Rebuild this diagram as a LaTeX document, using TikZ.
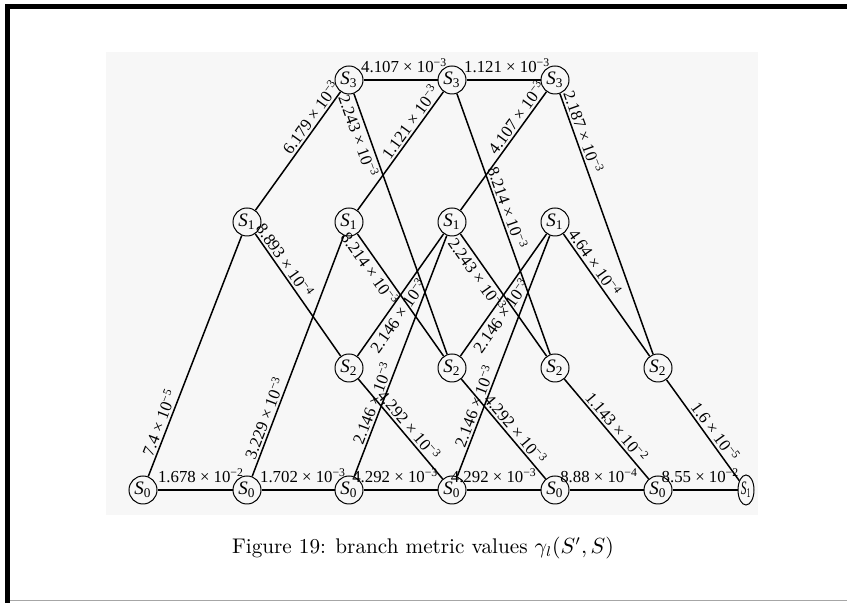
\documentclass[tikz,border=0pt]{standalone}
\usepackage{fontspec}
\usepackage{graphicx}
\newfontfamily\tf{Liberation Serif}
\usetikzlibrary{shapes.geometric}
\newcommand{\lab}[2]{#1 × 10\textsuperscript{−#2}}
\newcommand{\Sn}[1]{\textit{S}\textsubscript{#1}}
\begin{document}
\begin{tikzpicture}[x=0.5pt,y=-0.5pt,
  st/.style={circle,draw,line width=0.5pt,minimum size=14pt,inner sep=0pt,font=\tf\fontsize{9.5}{9.5}\selectfont},
  ed/.style={line width=0.75pt},
  lb/.style={font=\tf\fontsize{8.4}{8.4}\selectfont,inner sep=1pt,sloped},
  hl/.style={lb,above=2.5pt}]
\useasboundingbox (0,0) rectangle (847,603);
\fill[black!3] (106,52) rectangle (758,515);
\draw[line width=2.5pt] (7.5,603) -- (7.5,6.5) -- (847,6.5);
\draw[black!35,line width=0.5pt] (10,601) -- (847,601);
% S3 row
\node[st] (t2) at (349,80) {\Sn3};
\node[st] (t3) at (452,80) {\Sn3};
\node[st] (t4) at (555,80) {\Sn3};
% S1 row
\node[st] (o1) at (247,222) {\Sn1};
\node[st] (o2) at (349,222) {\Sn1};
\node[st] (o3) at (452,222) {\Sn1};
\node[st] (o4) at (555,222) {\Sn1};
% S2 row
\node[st] (w2) at (349,368) {\Sn2};
\node[st] (w3) at (452,368) {\Sn2};
\node[st] (w4) at (555,368) {\Sn2};
\node[st] (w5) at (658,368) {\Sn2};
% S0 row
\node[st] (z0) at (143,490) {\Sn0};
\node[st] (z1) at (247,490) {\Sn0};
\node[st] (z2) at (349,490) {\Sn0};
\node[st] (z3) at (452,490) {\Sn0};
\node[st] (z4) at (555,490) {\Sn0};
\node[st] (z5) at (658,490) {\Sn0};
\node[ellipse,draw,line width=0.5pt,minimum width=8pt,minimum height=15pt,inner sep=0pt,font=\tf\fontsize{9.5}{9.5}\selectfont] (e6) at (746,490) {\scalebox{0.6}[1]{\Sn1}};
% horizontal edges
\draw[ed] (z0) -- node[hl,pos=.58]{\lab{1.678}{2}} (z1);
\draw[ed] (z1) -- node[hl,pos=.57]{\lab{1.702}{3}} (z2);
\draw[ed] (z2) -- node[hl,pos=.43]{\lab{4.292}{3}} (z3);
\draw[ed] (z3) -- node[hl,pos=.37]{\lab{4.292}{3}} (z4);
\draw[ed] (z4) -- node[hl,pos=.40]{\lab{8.88}{4}} (z5);
\draw[ed] (z5) -- node[hl,pos=.43]{\lab{8.55}{2}} (e6);
\draw[ed] (t2) -- node[hl,pos=.55]{\lab{4.107}{3}} (t3);
\draw[ed] (t3) -- node[hl,pos=.55]{\lab{1.121}{3}} (t4);
% slanted edges
\draw[ed] (z0) -- node[lb,above,pos=.21]{\lab{7.4}{5}} (o1);
\draw[ed] (o1) -- node[lb,above,pos=.74]{\lab{6.179}{3}} (t2);
\draw[ed] (o1) -- node[lb,above,pos=.26]{\lab{8.893}{4}} (w2);
\draw[ed] (z1) -- node[lb,above,pos=.23]{\lab{3.229}{3}} (o2);
\draw[ed] (t2) -- node[lb,below,pos=.15]{\lab{2.243}{3}} (w3);
\draw[ed] (o2) -- node[lb,above,pos=.70]{\lab{1.121}{3}} (t3);
\draw[ed] (o2) -- node[lb,below,pos=.24]{\lab{8.214}{3}} (w3);
\draw[ed] (w2) -- node[lb,below,pos=.38]{\lab{2.146}{3}} (o3);
\draw[ed] (w2) -- node[lb,above,pos=.52]{\lab{4.292}{3}} (z3);
\draw[ed] (z2) -- node[lb,above,pos=.29]{\lab{2.146}{3}} (o3);
\draw[ed] (t3) -- node[lb,above,pos=.45]{\lab{8.214}{3}} (w4);
\draw[ed] (o3) -- node[lb,above,pos=.74]{\lab{4.107}{3}} (t4);
\draw[ed] (o3) -- node[lb,below,pos=.29]{\lab{2.243}{3}} (w4);
\draw[ed] (w3) -- node[lb,below,pos=.38]{\lab{2.146}{3}} (o4);
\draw[ed] (w3) -- node[lb,above,pos=.56]{\lab{4.292}{3}} (z4);
\draw[ed] (z3) -- node[lb,above,pos=.28]{\lab{2.146}{3}} (o4);
\draw[ed] (t4) -- node[lb,above,pos=.16]{\lab{2.187}{3}} (w5);
\draw[ed] (o4) -- node[lb,above,pos=.28]{\lab{4.64}{4}} (w5);
\draw[ed] (w4) -- node[lb,above,pos=.54]{\lab{1.143}{2}} (z5);
\draw[ed] (w5) -- node[lb,above,pos=.57]{\lab{1.6}{5}} (e6);
% caption
\node[font=\fontsize{10.6}{12}\selectfont] (cap) at (423,548) {Figure 19: branch metric values $\gamma_l(S',S)$};
\end{tikzpicture}
\end{document}
